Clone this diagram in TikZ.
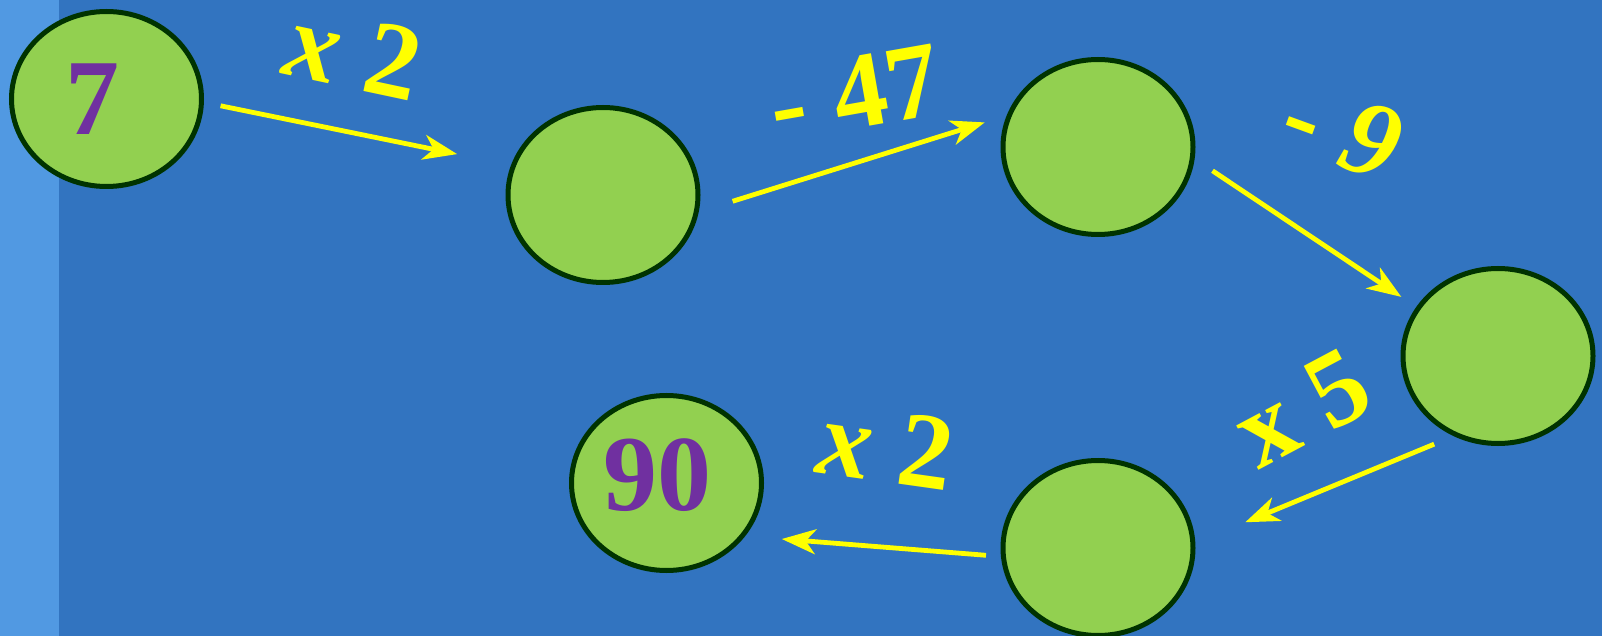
\documentclass[tikz,border=0pt]{standalone}
\usepackage{fontspec}
\setmainfont{Liberation Serif}
\usetikzlibrary{shapes.geometric,arrows.meta}
\definecolor{bgblue}{HTML}{3274C0}
\definecolor{stripblue}{HTML}{5199E2}
\definecolor{bubblegreen}{HTML}{92D050}
\definecolor{bubbleedge}{HTML}{003300}
\definecolor{numpurple}{HTML}{7030A0}
\definecolor{arrowyellow}{HTML}{FFFF00}
\begin{document}
\begin{tikzpicture}[x=0.5pt,y=-0.5pt,
  bubble/.style={ellipse, draw=bubbleedge, line width=2.5pt, fill=bubblegreen,
    minimum width=95pt, minimum height=87.5pt, inner sep=0pt},
  num/.style={text=numpurple, font=\fontsize{54pt}{54pt}\selectfont\bfseries, inner sep=0pt},
  op/.style={text=arrowyellow, font=\fontsize{54pt}{54pt}\selectfont\bfseries, inner sep=0pt},
  link/.style={draw=arrowyellow, line width=2.4pt,
    -{Stealth[length=17pt,width=12.5pt,inset=5pt]}}]
\useasboundingbox (0,0) rectangle (1602,636);
\fill[bgblue] (0,0) rectangle (1602,636);
\fill[stripblue] (0,0) rectangle (59,636);

\node[bubble, label={[num, xshift=-7pt]center:7}] (n1) at (106.5,99) {};
\node[bubble] (n2) at (603,195) {};
\node[bubble] (n3) at (1098,147) {};
\node[bubble] (n4) at (1498,356) {};
\node[bubble] (n5) at (1098,548) {};
\node[bubble, label={[num, xshift=-4.5pt, yshift=4pt]center:90}] (n6) at (666.5,483) {};

\draw[link, shorten <=8.5pt, shorten >=27.5pt] (n1.-2.15) -- (n2.162.35);
\draw[link, shorten <=17.75pt, shorten >=11.5pt] (n2.-10.5) -- (n3.161.1);
\draw[link, shorten <=10.75pt, shorten >=9pt] (n3.-7.25) -- (n4.149.3);
\draw[link, shorten <=10.5pt, shorten >=27pt] (n4.-119.5) -- (n5.3.1);
\draw[link, shorten <=7.5pt, shorten >=18.35pt] (n5.-175.8) -- (n6.-34.7);

\node[op, rotate=-12] (l1) at (354,53) {{\itshape x} 2};
\node[op, rotate=10] (l2) at (855,93) {- 47};
\node[op, rotate=-20] (l3) at (1342,130) {- {\itshape 9}};
\node[op, rotate=28] (l4) at (1302,408) {x 5};
\node[op, rotate=-8] (l5) at (886,446) {{\itshape x} 2};
\end{tikzpicture}
\end{document}
